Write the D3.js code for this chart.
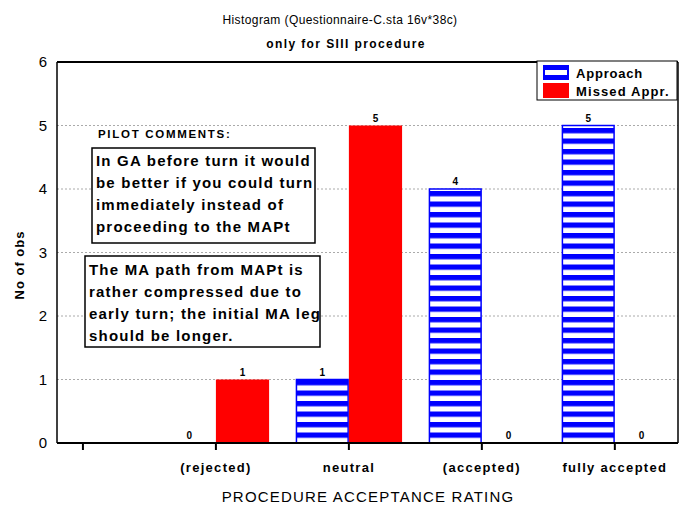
<!DOCTYPE html>
<html>
<head>
<meta charset="utf-8">
<script src="https://cdn.jsdelivr.net/npm/d3@7"></script>
<style>
  body { margin: 0; background: #fff; }
  text { font-family: "Liberation Sans", Arial, sans-serif; }
</style>
</head>
<body>
<script>
const width = 680;
const height = 506;

// data
const categories = ["", "(rejected)", "neutral", "(accepted)", "fully accepted"];
const approach = [null, 0, 1, 4, 5];
const missed = [null, 1, 5, 0, 0];
const yTicks = [0, 1, 2, 3, 4, 5, 6];
const comment1 = ["In GA before turn it would", "be better if you could turn", "immediately instead of", "proceeding to the MAPt"];
const comment2 = ["The MA path from MAPt is", "rather compressed due to", "early turn; the initial MA leg", "should be longer."];

const plot = { left: 57, right: 678, top: 62, bottom: 443 };

const svg = d3.select("body").append("svg")
  .attr("width", width)
  .attr("height", height);

const defs = svg.append("defs");
const pat = defs.append("pattern")
  .attr("id", "stripes")
  .attr("patternUnits", "userSpaceOnUse")
  .attr("width", 8)
  .attr("height", 10.5)
  .attr("y", 2);
pat.append("rect").attr("width", 8).attr("height", 10.5).attr("fill", "#fff");
pat.append("rect").attr("y", 0).attr("width", 8).attr("height", 5.3).attr("fill", "#0000ff");

const x = d3.scaleLinear().domain([-0.195, 4.475]).range([plot.left, plot.right]);
const y = d3.scaleLinear().domain([0, 6]).range([plot.bottom, plot.top]);
const barW = x(0.4) - x(0);

// titles
svg.append("text")
  .attr("x", 340).attr("y", 24)
  .attr("text-anchor", "middle")
  .style("font-size", "12px").style("letter-spacing", "0.4px")
  .text("Histogram (Questionnaire-C.sta 16v*38c)");
svg.append("text")
  .attr("x", 346).attr("y", 48)
  .attr("text-anchor", "middle")
  .style("font-size", "12px").style("font-weight", "bold").style("letter-spacing", "1.4px")
  .text("only for SIII procedure");

// gridlines
svg.append("g")
  .selectAll("line")
  .data(yTicks.filter(d => d > 0 && d < 6))
  .join("line")
  .attr("x1", plot.left).attr("x2", plot.right)
  .attr("y1", d => y(d)).attr("y2", d => y(d))
  .attr("stroke", "#aaa")
  .attr("stroke-dasharray", "2,2");

// y axis labels
svg.append("g")
  .selectAll("text")
  .data(yTicks)
  .join("text")
  .attr("x", 47)
  .attr("y", d => y(d) + 5)
  .attr("text-anchor", "end")
  .style("font-size", "15px")
  .text(d => d);

svg.append("text")
  .attr("transform", "translate(24,265) rotate(-90)")
  .attr("text-anchor", "middle")
  .style("font-size", "13px").style("font-weight", "bold").style("letter-spacing", "1px")
  .text("No of obs");

// bars
const idx = d3.range(categories.length).filter(i => approach[i] !== null);

svg.append("g")
  .selectAll("rect")
  .data(idx.filter(i => approach[i] > 0))
  .join("rect")
  .attr("x", i => x(i) - barW + 0.75)
  .attr("y", i => y(approach[i]))
  .attr("width", barW - 1.5)
  .attr("height", i => y(0) - y(approach[i]))
  .attr("fill", "url(#stripes)")
  .attr("stroke", "#0000ff")
  .attr("stroke-width", 1.5);

svg.append("g")
  .selectAll("rect")
  .data(idx.filter(i => missed[i] > 0))
  .join("rect")
  .attr("x", i => x(i))
  .attr("y", i => y(missed[i]))
  .attr("width", barW)
  .attr("height", i => y(0) - y(missed[i]))
  .attr("fill", "#ff0000");

// value labels
const labels = svg.append("g")
  .style("font-size", "10px").style("font-weight", "bold")
  .attr("text-anchor", "middle");
labels.selectAll(".la")
  .data(idx)
  .join("text")
  .attr("class", "la")
  .attr("x", i => x(i) - barW / 2)
  .attr("y", i => y(approach[i]) - 4)
  .text(i => approach[i]);
labels.selectAll(".lm")
  .data(idx)
  .join("text")
  .attr("class", "lm")
  .attr("x", i => x(i) + barW / 2)
  .attr("y", i => y(missed[i]) - 4)
  .text(i => missed[i]);

// frame
svg.append("line")
  .attr("x1", plot.left).attr("x2", plot.right)
  .attr("y1", plot.top).attr("y2", plot.top)
  .attr("stroke", "#000").attr("stroke-width", 2);
svg.append("line")
  .attr("x1", plot.left).attr("x2", plot.left)
  .attr("y1", plot.top).attr("y2", plot.bottom)
  .attr("stroke", "#000").attr("stroke-width", 1.5);
svg.append("line")
  .attr("x1", plot.right).attr("x2", plot.right)
  .attr("y1", plot.top).attr("y2", plot.bottom)
  .attr("stroke", "#000").attr("stroke-width", 1.5);
svg.append("line")
  .attr("x1", plot.left).attr("x2", plot.right)
  .attr("y1", plot.bottom).attr("y2", plot.bottom)
  .attr("stroke", "#000").attr("stroke-width", 2);

// x ticks and labels
const xg = svg.append("g");
xg.selectAll("line")
  .data(d3.range(categories.length))
  .join("line")
  .attr("x1", i => x(i)).attr("x2", i => x(i))
  .attr("y1", plot.bottom).attr("y2", plot.bottom + 7)
  .attr("stroke", "#000").attr("stroke-width", 2);
xg.selectAll("text")
  .data(d3.range(categories.length))
  .join("text")
  .attr("x", i => x(i))
  .attr("y", 472)
  .attr("text-anchor", "middle")
  .style("font-size", "13px").style("font-weight", "bold").style("letter-spacing", "1.3px")
  .text(i => categories[i]);

svg.append("text")
  .attr("x", 368).attr("y", 502)
  .attr("text-anchor", "middle")
  .style("font-size", "15px").style("letter-spacing", "1.2px")
  .text("PROCEDURE ACCEPTANCE RATING");

// legend
const lg = svg.append("g");
lg.append("rect")
  .attr("x", 537).attr("y", 61).attr("width", 140).attr("height", 39)
  .attr("fill", "#fff").attr("stroke", "#000");
lg.append("rect").attr("x", 543).attr("y", 65).attr("width", 26).attr("height", 15).attr("fill", "#0000ff");
lg.append("rect").attr("x", 545).attr("y", 70).attr("width", 22).attr("height", 5).attr("fill", "#fff");
lg.append("rect").attr("x", 543).attr("y", 83).attr("width", 26).attr("height", 15).attr("fill", "#ff0000");
lg.append("text").attr("x", 576).attr("y", 78)
  .style("font-size", "13px").style("font-weight", "bold").style("letter-spacing", "0.8px").text("Approach");
lg.append("text").attr("x", 576).attr("y", 96)
  .style("font-size", "13px").style("font-weight", "bold").style("letter-spacing", "1.1px").text("Missed Appr.");

// comments
svg.append("text")
  .attr("x", 98).attr("y", 138)
  .style("font-size", "11.5px").style("font-weight", "bold").style("letter-spacing", "1.7px")
  .text("PILOT COMMENTS:");

function commentBox(lines, bx, by, bw, bh, y0) {
  const g = svg.append("g");
  g.append("rect")
    .attr("x", bx).attr("y", by).attr("width", bw).attr("height", bh)
    .attr("fill", "#fff").attr("stroke", "#000").attr("stroke-width", 1.5);
  g.selectAll("text")
    .data(lines)
    .join("text")
    .attr("x", bx + 4)
    .attr("y", (d, i) => y0 + i * 22)
    .style("font-size", "15px").style("font-weight", "bold").style("letter-spacing", "1.2px")
    .text(d => d);
}
commentBox(comment1, 92, 148, 223, 95, 166);
commentBox(comment2, 85, 256, 235, 91, 275);
</script>
</body>
</html>
